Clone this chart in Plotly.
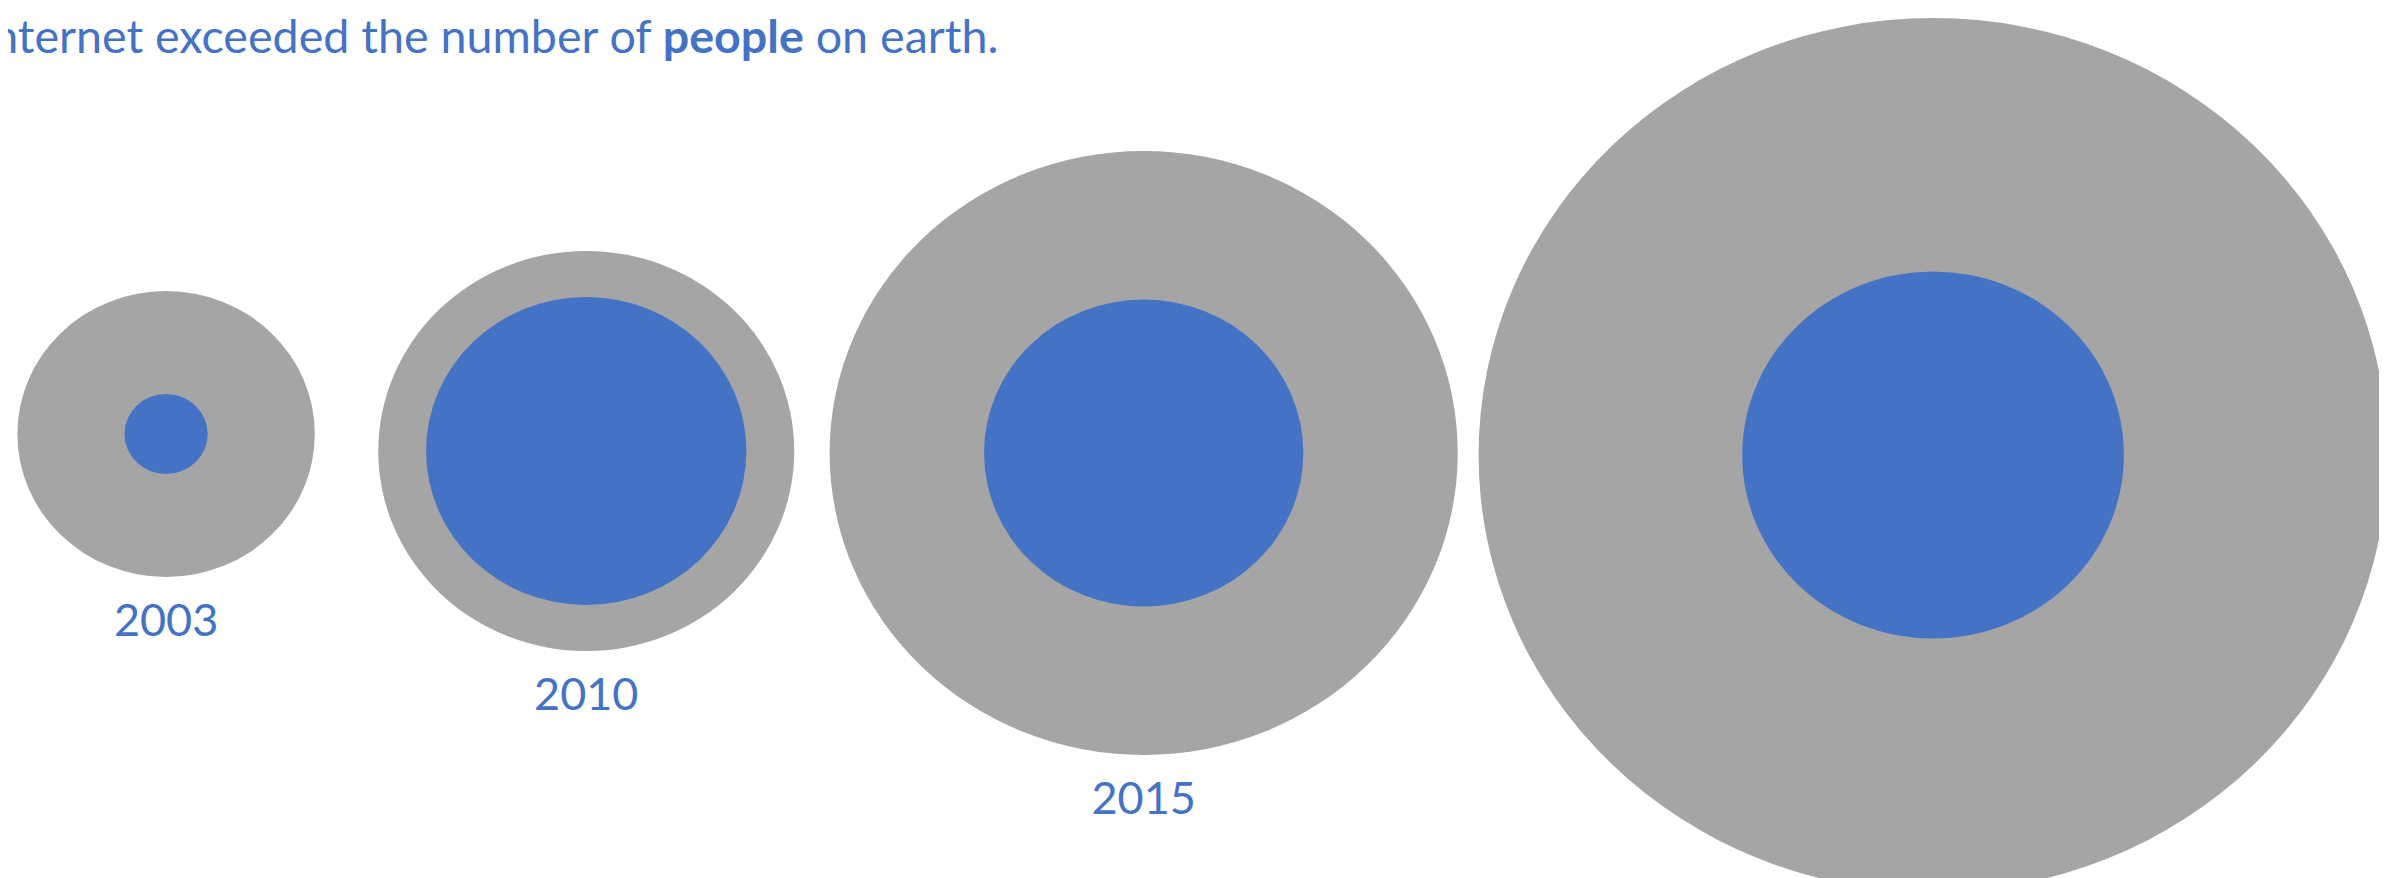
import plotly.graph_objects as go

# ---- data ----
years = ["2003", "2010", "2015", "2020"]
x_pos = [152, 556, 1092, 1851]        # horizontal placement (axis units)
y_pos = [426, 443, 445, 447]          # vertical placement (axis units)
outer_size = [143, 200, 302, 437]     # grey circle radius
inner_size = [40, 154, 153.5, 183.5]  # blue circle radius
headline = "internet exceeded the number of <b>people</b> on earth."

# ---- style ----
W, H = 2387, 878
X_STRETCH = 1.04
GREY = "#A5A5A5"
BLUE = "#4472C4"
FONT = "Lato"
LABEL_GAP = 48

fig = go.Figure()

shapes = []
for xc, yc, r in zip(x_pos, y_pos, outer_size):
    shapes.append(dict(type="circle", xref="x", yref="y",
                       x0=xc - r, x1=xc + r, y0=yc - r, y1=yc + r,
                       fillcolor=GREY, line=dict(width=0), layer="below"))
for xc, yc, r in zip(x_pos, y_pos, inner_size):
    shapes.append(dict(type="circle", xref="x", yref="y",
                       x0=xc - r, x1=xc + r, y0=yc - r, y1=yc + r,
                       fillcolor=BLUE, line=dict(width=0), layer="below"))

label_y = [yc + r + LABEL_GAP for yc, r in zip(y_pos, outer_size)]
label_txt = [yr if ly + 20 < H else "" for yr, ly in zip(years, label_y)]

fig.add_trace(go.Scatter(
    x=x_pos, y=label_y,
    mode="text", text=label_txt, textposition="middle center",
    textfont=dict(family=FONT, size=45, color=BLUE),
    cliponaxis=True, hoverinfo="skip", showlegend=False))

fig.add_annotation(xref="paper", yref="paper", x=992 / W, y=1 - 27 / H,
                   xanchor="right", yanchor="middle", showarrow=False,
                   text=headline,
                   font=dict(family=FONT, size=46.6, color=BLUE))

fig.update_layout(
    width=W, height=H, margin=dict(l=0, r=0, t=0, b=0),
    paper_bgcolor="white", plot_bgcolor="white",
    shapes=shapes, showlegend=False,
    xaxis=dict(range=[0, W / X_STRETCH], visible=False, fixedrange=True),
    yaxis=dict(range=[H, 0], visible=False, fixedrange=True),
)

fig.write_html("out.html", config={"displayModeBar": False})
